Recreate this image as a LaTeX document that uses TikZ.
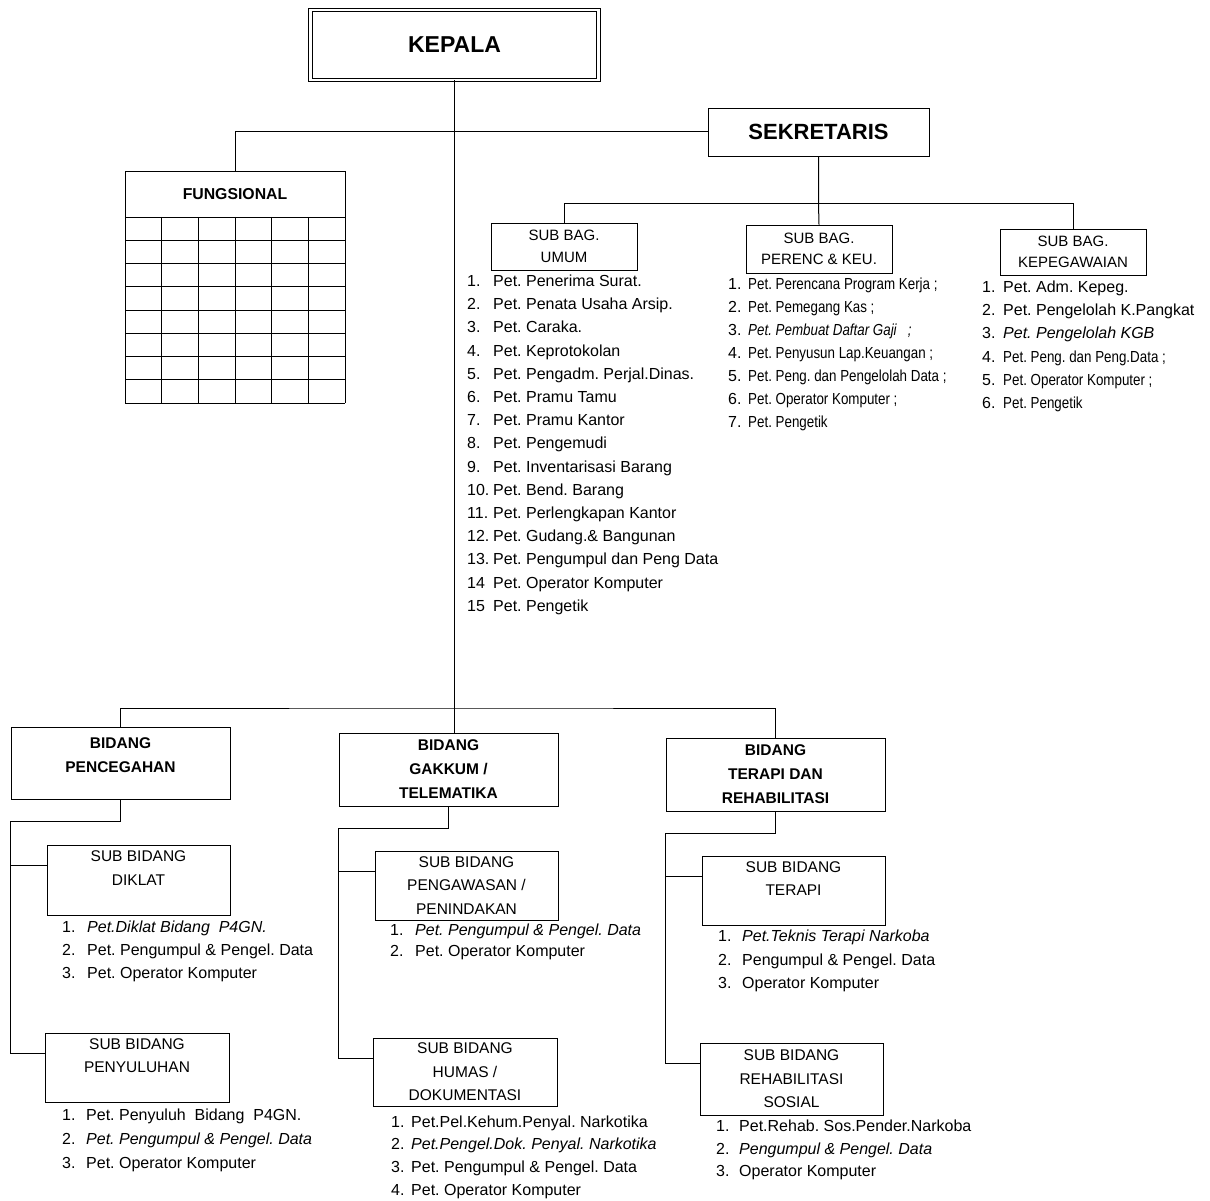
\documentclass[tikz,border=0pt]{standalone}
\usepackage{fontspec}
\setmainfont{Liberation Sans}
\newfontfamily\narrowfont[FakeStretch=0.835]{Liberation Sans}
\frenchspacing

\newcommand{\petsize}[1]{\fontsize{16}{#1}\selectfont}

\tikzset{
	box/.style={draw, line width=0.9pt, align=center, inner sep=0pt},
	bidang/.style={box, font=\bfseries\fontsize{15.5}{24}\selectfont},
	subbid/.style={box, font=\fontsize{15.5}{23.5}\selectfont},
	subbag/.style={box, font=\fontsize{15}{21.5}\selectfont},
	petlist/.style={anchor=north west, inner sep=0pt},
	link/.style={line width=1pt},
}

\begin{document}
\begin{tikzpicture}[x=1pt,y=-1pt]
		
		\useasboundingbox (0,0) rectangle (1210,1201);
		
		%Kepala
		\node[box, double, double distance=2.5pt, minimum width=288pt, minimum height=70pt, font=\bfseries\fontsize{23}{27}\selectfont] (kepala) at (454.5,45) {KEPALA};
		
		%Sekretaris and fungsional
		\node[box, minimum width=221pt, minimum height=48pt, font=\bfseries\fontsize{22}{26}\selectfont] (sekretaris) at (818.5,132) {SEKRETARIS};
		\node[box, minimum width=220pt, minimum height=46pt, font=\bfseries\fontsize{15.8}{18}\selectfont] (fungsional) at (235,194) {FUNGSIONAL};
		\foreach \i in {0,...,6}
			\draw[line width=0.9pt] ({125+\i*36.667},217) -- ({125+\i*36.667},403);
		\foreach \j in {1,...,8}
			\draw[line width=0.9pt] (125,{217+\j*23.25}) -- (345,{217+\j*23.25});
		
		%Sub bagian
		\node[subbag, minimum width=146pt, minimum height=47pt] (umum) at (564,246.5) {SUB BAG.\\UMUM};
		\node[subbag, minimum width=146pt, minimum height=48pt] (perenc) at (819,249) {SUB BAG.\\PERENC \& KEU.};
		\node[subbag, minimum width=146pt, minimum height=46pt] (kepeg) at (1073,252) {SUB BAG.\\KEPEGAWAIAN};
		
		%Bidang
		\node[bidang, minimum width=219pt, minimum height=72pt] (pencegahan) at (120.5,763) {\rule{0pt}{19pt}BIDANG\\PENCEGAHAN\\~};
		\node[bidang, minimum width=219pt, minimum height=73pt] (gakkum) at (448.5,769.5) {BIDANG\\GAKKUM /\\TELEMATIKA};
		\node[bidang, minimum width=219pt, minimum height=73pt] (terapi) at (775.5,774.5) {BIDANG\\TERAPI DAN\\REHABILITASI};
		
		%Sub bidang
		\node[subbid, minimum width=183pt, minimum height=70pt] (diklat) at (138.5,880) {SUB BIDANG\\DIKLAT\\~};
		\node[subbid, minimum width=184pt, minimum height=69pt] (penyuluhan) at (137,1067.5) {SUB BIDANG\\PENYULUHAN\\~};
		\node[subbid, minimum width=183pt, minimum height=69pt] (pengawasan) at (466.5,885.5) {SUB BIDANG\\PENGAWASAN /\\PENINDAKAN};
		\node[subbid, minimum width=184pt, minimum height=68pt] (humas) at (465,1072) {SUB BIDANG\\HUMAS /\\DOKUMENTASI};
		\node[subbid, minimum width=183pt, minimum height=69pt] (subterapi) at (793.5,890.5) {SUB BIDANG\\TERAPI\\~};
		\node[subbid, minimum width=183pt, minimum height=72pt] (rehab) at (791.5,1079) {SUB BIDANG\\REHABILITASI\\SOSIAL};
		
		%Lines
		\coordinate (bagbus) at ([yshift=-47pt]sekretaris.south);
		\coordinate (bidbus) at (454.5,708);
		\draw[link] (kepala.south) -- (kepala.south |- gakkum.north);
		\draw[link] (fungsional.north) |- (sekretaris.west);
		\draw[link] (sekretaris.south) -- (bagbus) -- (perenc.north);
		\draw[link] (umum.north) |- (bagbus) -| (kepeg.north);
		\draw[link] (pencegahan.north) |- (bidbus) -| (terapi.north);
		\foreach \bid/\first/\second in {pencegahan/diklat/penyuluhan, gakkum/pengawasan/humas, terapi/subterapi/rehab}{
			\coordinate (\first-in) at ([yshift=-21pt]\first.north west);
			\coordinate (\second-in) at ([yshift=-21pt]\second.north west);
			\draw[link] (\bid.south) -- ++(0,22) -| (\bid.west |- \second-in) -- (\second-in);
			\draw[link] (\bid.west |- \first-in) -- (\first-in);
		}
		
		%Petugas sekretariat
		\node[petlist] (umumlist) at (467,270) {\petsize{23.2}\begin{tabular}{@{}p{26pt}@{}l@{}}
			1. & Pet. Penerima Surat.\\
			2. & Pet. Penata Usaha Arsip.\\
			3. & Pet. Caraka.\\
			4. & Pet. Keprotokolan\\
			5. & Pet. Pengadm. Perjal.Dinas.\\
			6. & Pet. Pramu Tamu\\
			7. & Pet. Pramu Kantor\\
			8. & Pet. Pengemudi\\
			9. & Pet. Inventarisasi Barang\\
			10. & Pet. Bend. Barang\\
			11. & Pet. Perlengkapan Kantor\\
			12. & Pet. Gudang.\& Bangunan\\
			13. & Pet. Pengumpul dan Peng Data\\
			14 & Pet. Operator Komputer\\
			15 & Pet. Pengetik
		\end{tabular}};
		\node[petlist] (perenclist) at (728,273) {\petsize{23}\begin{tabular}{@{}p{20pt}@{}l@{}}
			1. & {\narrowfont Pet. Perencana Program Kerja ;}\\
			2. & {\narrowfont Pet. Pemegang Kas ;}\\
			3. & {\narrowfont\itshape Pet. Pembuat Daftar Gaji \ \ ;}\\
			4. & {\narrowfont Pet. Penyusun Lap.Keuangan ;}\\
			5. & {\narrowfont Pet. Peng. dan Pengelolah Data ;}\\
			6. & {\narrowfont Pet. Operator Komputer ;}\\
			7. & {\narrowfont Pet. Pengetik}
		\end{tabular}};
		\node[petlist] (kepeglist) at (982,276) {\petsize{23.2}\begin{tabular}{@{}p{21pt}@{}l@{}}
			1. & Pet. Adm. Kepeg.\\
			2. & Pet. Pengelolah K.Pangkat\\
			3. & \textit{Pet. Pengelolah KGB}\\
			4. & {\narrowfont Pet. Peng. dan Peng.Data ;}\\
			5. & {\narrowfont Pet. Operator Komputer ;}\\
			6. & {\narrowfont Pet. Pengetik}
		\end{tabular}};
		
		%Petugas bidang
		\node[petlist] (dikllist) at (62,916) {\petsize{23}\begin{tabular}{@{}p{25pt}@{}l@{}}
			1. & \textit{Pet.Diklat Bidang \ P4GN.}\\
			2. & Pet. Pengumpul \& Pengel. Data\\
			3. & Pet. Operator Komputer
		\end{tabular}};
		\node[petlist] (penylist) at (62,1103) {\petsize{24}\begin{tabular}{@{}p{24pt}@{}l@{}}
			1. & Pet. Penyuluh \ Bidang \ P4GN.\\
			2. & \textit{Pet. Pengumpul \& Pengel. Data}\\
			3. & Pet. Operator Komputer
		\end{tabular}};
		\node[petlist] (pengawlist) at (390,921) {\petsize{21}\begin{tabular}{@{}p{25pt}@{}l@{}}
			1. & \textit{Pet. Pengumpul \& Pengel. Data}\\
			2. & Pet. Operator Komputer
		\end{tabular}};
		\node[petlist] (humaslist) at (391,1111) {\petsize{22.7}\begin{tabular}{@{}p{20pt}@{}l@{}}
			1. & Pet.Pel.Kehum.Penyal. Narkotika\\
			2. & \textit{Pet.Pengel.Dok. Penyal. Narkotika}\\
			3. & Pet. Pengumpul \& Pengel. Data\\
			4. & Pet. Operator Komputer
		\end{tabular}};
		\node[petlist] (terapilist) at (718,925) {\petsize{23.5}\begin{tabular}{@{}p{24pt}@{}l@{}}
			1. & \textit{Pet.Teknis Terapi Narkoba}\\
			2. & Pengumpul \& Pengel. Data\\
			3. & Operator Komputer
		\end{tabular}};
		\node[petlist] (rehablist) at (716,1116) {\petsize{22.5}\begin{tabular}{@{}p{23pt}@{}l@{}}
			1. & Pet.Rehab. Sos.Pender.Narkoba\\
			2. & \textit{Pengumpul \& Pengel. Data}\\
			3. & Operator Komputer
		\end{tabular}};
		
\end{tikzpicture}
\end{document}
